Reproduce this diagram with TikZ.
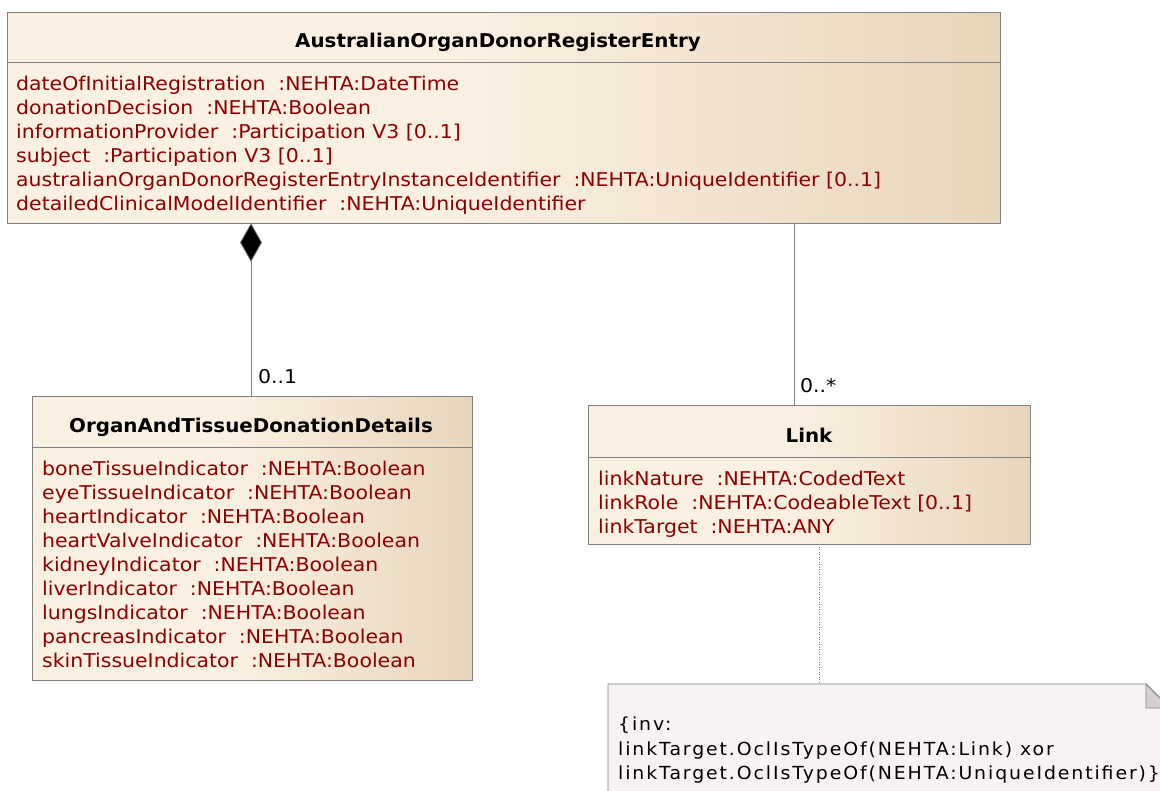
\documentclass[tikz,border=0pt]{standalone}
\usepackage{fontspec}
\setmainfont{DejaVu Sans}
\newfontfamily\attrfont{DejaVu Sans}[FakeStretch=1.076]
\newfontfamily\titlefont{DejaVu Sans}[FakeStretch=1.045]
\newfontfamily\notefont{DejaVu Sans}[FakeStretch=1.05,LetterSpace=10.5]
\usetikzlibrary{arrows.meta}
\definecolor{cream}{HTML}{FBF1E3}
\definecolor{tanc}{HTML}{E8D6BB}
\definecolor{attrred}{HTML}{8B0000}
\definecolor{edgec}{HTML}{808080}
\definecolor{notefill}{HTML}{F6F2F6}
\definecolor{foldfill}{HTML}{D3CFD3}
\pgfdeclarehorizontalshading{umlshade}{100bp}{color(0bp)=(cream); color(25bp)=(cream); color(47bp)=(cream); color(75bp)=(tanc); color(100bp)=(tanc)}
\begin{document}
\begin{tikzpicture}[x=1pt,y=-1pt,
  classbox/.style={draw=edgec, line width=0.8pt, shading=umlshade, rectangle, anchor=north west, inner sep=0pt},
  ctitle/.style={font=\titlefont\fontsize{19}{22}\selectfont\bfseries, anchor=base, inner sep=0pt},
  attr/.style={font=\attrfont\fontsize{19}{22}\selectfont, text=attrred, anchor=base west, inner sep=0pt},
  mult/.style={font=\attrfont\fontsize{19}{22}\selectfont, anchor=base west, inner sep=0pt},
  notetext/.style={font=\notefont\fontsize{18}{21}\selectfont, anchor=base west, inner sep=0pt},
  sep/.style={draw=edgec, line width=0.8pt},
  assoc/.style={draw=edgec, line width=0.8pt},
  dotc/.style={draw=edgec, line width=0.6pt, dash pattern=on 1pt off 1.5pt}
]
\useasboundingbox (0,0) rectangle (1160,791);
% top class
\node[classbox, minimum width=993pt, minimum height=211pt] (top) at (7,12) {};
\node[ctitle] (toptitle) at (498,48) {AustralianOrganDonorRegisterEntry};
\draw[sep] (top.west |- 0,62) -- (top.east |- 0,62);
\node[attr] (a1) at (16,90.5) {dateOfInitialRegistration~~:NEHTA:DateTime};
\node[attr] (a2) at (16,114.5) {donationDecision~~:NEHTA:Boolean};
\node[attr] (a3) at (16,138.5) {informationProvider~~:Participation V3 [0..1]};
\node[attr] (a4) at (16,162.5) {subject~~:Participation V3 [0..1]};
\node[attr] (a5) at (16,186.5) {australianOrganDonorRegisterEntryInstanceIdentifier~~:NEHTA:UniqueIdentifier [0..1]};
\node[attr] (a6) at (16,210.5) {detailedClinicalModelIdentifier~~:NEHTA:UniqueIdentifier};
% organ class
\node[classbox, minimum width=440pt, minimum height=284pt] (organ) at (32,396) {};
\node[ctitle] (organtitle) at (251,433) {OrganAndTissueDonationDetails};
\draw[sep] (organ.west |- 0,447) -- (organ.east |- 0,447);
\node[attr] (o1) at (42,475.5) {boneTissueIndicator~~:NEHTA:Boolean};
\node[attr] (o2) at (42,499.5) {eyeTissueIndicator~~:NEHTA:Boolean};
\node[attr] (o3) at (42,523.5) {heartIndicator~~:NEHTA:Boolean};
\node[attr] (o4) at (42,547.5) {heartValveIndicator~~:NEHTA:Boolean};
\node[attr] (o5) at (42,571.5) {kidneyIndicator~~:NEHTA:Boolean};
\node[attr] (o6) at (42,595.5) {liverIndicator~~:NEHTA:Boolean};
\node[attr] (o7) at (42,619.5) {lungsIndicator~~:NEHTA:Boolean};
\node[attr] (o8) at (42,643.5) {pancreasIndicator~~:NEHTA:Boolean};
\node[attr] (o9) at (42,667.5) {skinTissueIndicator~~:NEHTA:Boolean};
% link class
\node[classbox, minimum width=442pt, minimum height=139pt] (link) at (588,405) {};
\node[ctitle] (linktitle) at (809,443) {Link};
\draw[sep] (link.west |- 0,457) -- (link.east |- 0,457);
\node[attr] (l1) at (598,485.5) {linkNature~~:NEHTA:CodedText};
\node[attr] (l2) at (598,509.5) {linkRole~~:NEHTA:CodeableText [0..1]};
\node[attr] (l3) at (598,533.5) {linkTarget~~:NEHTA:ANY};
% composition
\coordinate (c1) at (251,223);
\draw[assoc, {Diamond[length=39pt,width=22pt,fill=black]}-] (c1) -- (c1 |- organ.north);
\node[mult] (m1) at (258,384) {0..1};
% association to Link
\coordinate (c2) at (794,223);
\draw[assoc] (c2) -- (c2 |- link.north);
\node[mult] (m2) at (800,393) {0..*};
% note
\draw[draw=edgec, line width=0.8pt, fill=notefill] (608,800) -- (608,684) -- (1146,684) -- (1170,708) -- (1170,800) -- cycle;
\draw[draw=edgec, line width=0.8pt, fill=foldfill] (1146,684) -- (1146,708) -- (1170,708) -- cycle;
\node[notetext] (n1) at (618,730) {\{inv:};
\node[notetext] (n2) at (618,755) {linkTarget.OclIsTypeOf(NEHTA:Link) xor};
\node[notetext] (n3) at (618,779) {linkTarget.OclIsTypeOf(NEHTA:UniqueIdentifier)\}};
\coordinate (c3) at (819,544);
\coordinate (c4) at (819,684);
\draw[dotc] (c3) -- (c4);
\end{tikzpicture}
\end{document}
